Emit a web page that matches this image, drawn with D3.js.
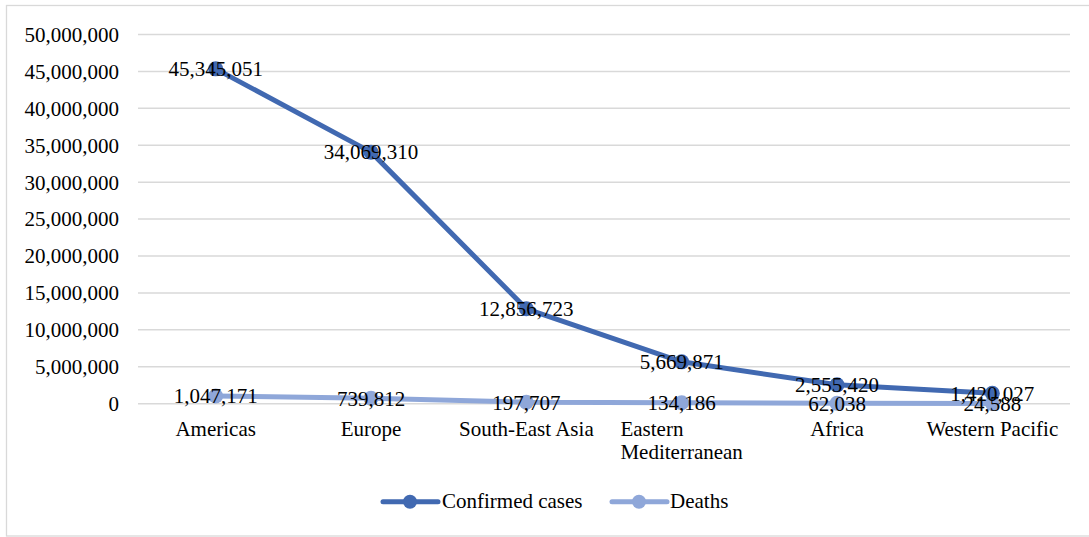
<!DOCTYPE html>
<html>
    <head>
        <meta charset="utf-8">
        <style>
            body { margin: 0; background: #fff; }
        </style>
    </head>
    <body>
        <svg width="1089" height="537"></svg>
        <script src="https://d3js.org/d3.v7.min.js"></script>
        <script>
            let regions = ["Americas", "Europe", "South-East Asia", "Eastern Mediterranean", "Africa", "Western Pacific"];
            let confirmed = [45345051, 34069310, 12856723, 5669871, 2555420, 1420027];
            let deaths = [1047171, 739812, 197707, 134186, 62038, 24588];
            let yTicks = [0, 5000000, 10000000, 15000000, 20000000, 25000000, 30000000, 35000000, 40000000, 45000000, 50000000];
            let seriesNames = ["Confirmed cases", "Deaths"];
            let colors = ["#4169b1", "#8fa7d9"];

            let svg = d3.select("svg");
            let fmt = d3.format(",");
            let font = "'Liberation Serif', 'Times New Roman', serif";
            let plotLeft = 138, plotRight = 1070, plotTop = 34.5, plotBottom = 403.7;

            svg.append("rect")
                .attr("x", 6.5).attr("y", 5.5)
                .attr("width", 1095).attr("height", 530.5)
                .attr("fill", "none").attr("stroke", "#d9d9d9").attr("stroke-width", 1.3);

            let x = d3.scaleBand().domain(regions).range([plotLeft, plotRight]);
            let y = d3.scaleLinear().domain([0, 50000000]).range([plotBottom, plotTop]);

            // gridlines
            svg.append("g").selectAll("line").data(yTicks).enter().append("line")
                .attr("x1", plotLeft).attr("x2", plotRight)
                .attr("y1", d => y(d)).attr("y2", d => y(d))
                .attr("stroke", "#d9d9d9").attr("stroke-width", 1.5);

            // y labels
            svg.append("g").selectAll("text").data(yTicks).enter().append("text")
                .attr("x", 119).attr("y", d => y(d))
                .attr("dy", "0.35em")
                .attr("text-anchor", "end")
                .attr("font-size", 21)
                .style("font-family", font)
                .text(d => fmt(d));

            // category labels
            let cats = svg.append("g").selectAll("text").data(regions).enter().append("text")
                .attr("font-size", 21)
                .style("font-family", font)
                .attr("y", 435.5);
            cats.each(function(d) {
                let t = d3.select(this);
                let cx = x(d) + x.bandwidth() / 2;
                if (d === "Eastern Mediterranean") {
                    let a = t.append("tspan").text("Eastern");
                    let b = t.append("tspan").attr("dy", 23).text("Mediterranean");
                    let w = b.node().getComputedTextLength();
                    a.attr("x", cx - w / 2);
                    b.attr("x", cx - w / 2);
                } else {
                    t.attr("x", cx).attr("text-anchor", "middle").text(d);
                }
            });

            let line = d3.line()
                .x((d, i) => x(regions[i]) + x.bandwidth() / 2)
                .y(d => y(d));

            let series = [confirmed, deaths];
            // deaths first so confirmed sits above
            [1, 0].forEach(function(s) {
                let g = svg.append("g");
                g.append("path").datum(series[s])
                    .attr("d", line)
                    .attr("fill", "none")
                    .attr("stroke", colors[s])
                    .attr("stroke-width", 5)
                    .attr("stroke-linejoin", "round")
                    .attr("stroke-linecap", "round");
                g.selectAll("circle").data(series[s]).enter().append("circle")
                    .attr("cx", (d, i) => x(regions[i]) + x.bandwidth() / 2)
                    .attr("cy", d => y(d))
                    .attr("r", 7.5)
                    .attr("fill", colors[s]);
            });

            [1, 0].forEach(function(s) {
                svg.append("g").selectAll("text").data(series[s]).enter().append("text")
                    .attr("x", (d, i) => x(regions[i]) + x.bandwidth() / 2)
                    .attr("y", d => y(d))
                    .attr("dy", "0.35em")
                    .attr("text-anchor", "middle")
                    .attr("font-size", 21)
                    .style("font-family", font)
                    .text(d => fmt(d));
            });

            // legend
            let legendPos = [[383, 410, 442], [612, 639, 670]];
            legendPos.forEach(function(p, s) {
                let g = svg.append("g");
                g.append("line")
                    .attr("x1", p[0]).attr("x2", p[0] + 55)
                    .attr("y1", 501.7).attr("y2", 501.7)
                    .attr("stroke", colors[s]).attr("stroke-width", 5)
                    .attr("stroke-linecap", "round");
                g.append("circle").attr("cx", p[1]).attr("cy", 501.7).attr("r", 7).attr("fill", colors[s]);
                g.append("text").attr("x", p[2]).attr("y", 507.5)
                    .attr("font-size", 21)
                    .style("font-family", font)
                    .text(seriesNames[s]);
            });
        </script>
    </body>
</html>
